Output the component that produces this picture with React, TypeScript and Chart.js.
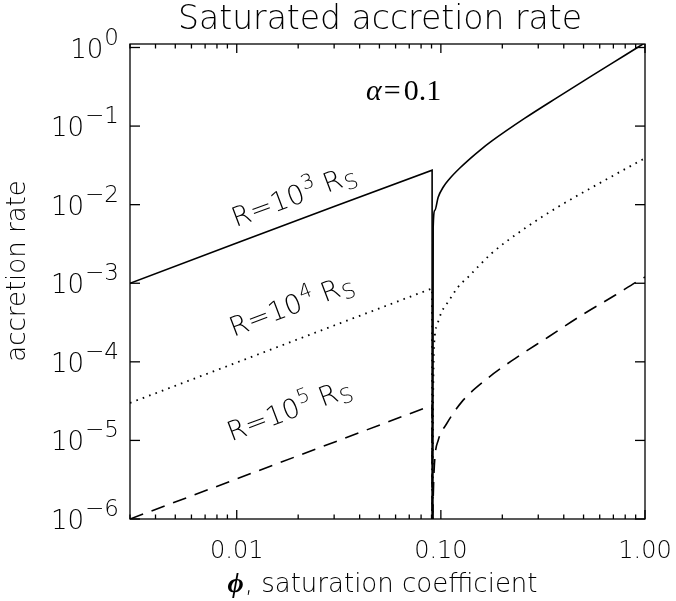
import React, { useEffect, useRef } from "react";
import { Chart, registerables } from "chart.js";

Chart.register(...registerables);

// ---- axis ranges and ticks ----
const X_MIN = 0.003;
const X_MAX = 1.0;
const Y_MIN = 1e-6;
const Y_MAX = 1.108;

const xTickValues = [0.01, 0.1, 1.0];
const xTickLabels = ["0.01", "0.10", "1.00"];
const yTickExponents = [0, -1, -2, -3, -4, -5, -6];

// ---- left branches (phi below the jump), ending with the vertical drop ----
const leftPhi = [0.003, 0.01, 0.03, 0.0906, 0.0906];
const solidLeft = [1.0e-3, 3.25e-3, 9.5e-3, 2.75e-2, 1e-6];
const dottedLeft = [3.0e-5, 9.8e-5, 2.9e-4, 8.6e-4, 1e-6];
const dashedLeft = [1.0e-6, 3.24e-6, 9.5e-6, 2.8e-5, 1e-6];

// ---- right branches (phi above the jump) ----
const solidRightPhi = [0.0914, 0.0917, 0.0935, 0.097, 0.1026, 0.1106, 0.1239, 0.1387, 0.1553, 0.1772, 0.258, 0.376, 0.548, 0.798, 1.0];
const solidRight = [1e-6, 5.21e-3, 8.49e-3, 1.243e-2, 1.666e-2, 2.15e-2, 2.925e-2, 3.833e-2, 4.915e-2, 6.42e-2, 0.126, 0.2355, 0.436, 0.798, 1.148];

const dottedRightPhi = [0.0912, 0.0914, 0.0918, 0.0935, 0.0953, 0.1008, 0.1086, 0.1216, 0.136, 0.1772, 0.258, 0.376, 0.637, 0.963, 1.0];
const dottedRight = [1e-6, 1e-5, 5e-5, 2.2e-4, 2.8e-4, 4.3e-4, 5.8e-4, 9.0e-4, 1.2e-3, 2.4e-3, 5.0e-3, 9.4e-3, 2.05e-2, 3.7e-2, 3.9e-2];

const dashedRightPhi = [0.0912, 0.0922, 0.0935, 0.097, 0.1067, 0.1263, 0.1644, 0.2307, 0.336, 0.489, 0.713, 0.908, 1.0];
const dashedRight = [1e-6, 3e-6, 6.1e-6, 1.0e-5, 1.63e-5, 3.07e-5, 5.8e-5, 1.1e-4, 2.07e-4, 3.91e-4, 7.03e-4, 1.04e-3, 1.2e-3];

// ---- curve labels: R = 10^n R_S ----
const labelExponents = ["3", "4", "5"];
const labelPhi = [0.0099, 0.00965, 0.0094];
const labelValue = [5.17e-3, 2.07e-4, 9.7e-6];

const TITLE = "Saturated accretion rate";
const X_TITLE = ", saturation coefficient";
const Y_TITLE = "accretion rate";

const SANS = '"DejaVu Sans", sans-serif';
const SERIF = '"Liberation Serif", "DejaVu Serif", serif';
const W = "300";

function pts(xs: number[], ys: number[]) {
  return xs.map((x, i) => ({ x, y: ys[i] }));
}

const overlay = {
  id: "overlay",
  afterDraw(chart: any) {
    const { ctx, chartArea: a, scales } = chart;
    const xs = scales.x;
    const ys = scales.y;
    ctx.save();
    ctx.strokeStyle = "#000";
    ctx.fillStyle = "#000";
    ctx.lineWidth = 1.3;
    ctx.strokeRect(a.left, a.top, a.right - a.left, a.bottom - a.top);
    const line = (x1: number, y1: number, x2: number, y2: number) => {
      ctx.beginPath();
      ctx.moveTo(x1, y1);
      ctx.lineTo(x2, y2);
      ctx.stroke();
    };
    // x ticks (major + minor), bottom and top
    for (let k = -3; k <= 0; k++) {
      for (let m = 1; m <= 9; m++) {
        const v = m * Math.pow(10, k);
        if (v < X_MIN * 0.999 || v > X_MAX * 1.001) continue;
        const px = xs.getPixelForValue(v);
        const len = m === 1 ? 9 : 4.5;
        line(px, a.bottom, px, a.bottom - len);
        line(px, a.top, px, a.top + len);
      }
    }
    // y ticks, left and right
    for (const e of yTickExponents) {
      const py = ys.getPixelForValue(Math.pow(10, e));
      line(a.left, py, a.left + 10, py);
      line(a.right, py, a.right - 10, py);
    }
    // y tick labels
    ctx.textBaseline = "alphabetic";
    ctx.textAlign = "left";
    for (const e of yTickExponents) {
      const py = ys.getPixelForValue(Math.pow(10, e));
      const exp = e === 0 ? "0" : "\u2212" + Math.abs(e);
      ctx.font = `${W} 26px ${SANS}`;
      const w1 = ctx.measureText("10").width;
      ctx.font = `${W} 23px ${SANS}`;
      const w2 = ctx.measureText(exp).width;
      const right = a.left - 11;
      ctx.font = `${W} 26px ${SANS}`;
      ctx.fillText("10", right - w2 - w1 - 1, py + 10);
      ctx.font = `${W} 23px ${SANS}`;
      ctx.fillText(exp, right - w2, py - 3);
    }
    // x tick labels
    ctx.textAlign = "center";
    ctx.font = `${W} 24px ${SANS}`;
    xTickValues.forEach((v, i) => {
      ctx.fillText(xTickLabels[i], xs.getPixelForValue(v), 558);
    });
    // title
    ctx.font = `${W} 33px ${SANS}`;
    ctx.fillText(TITLE, 380, 29);
    // x title with phi
    ctx.textAlign = "left";
    ctx.font = `bold italic 28px ${SERIF}`;
    const wPhi = ctx.measureText("\u03D5").width;
    ctx.font = `${W} 26px ${SANS}`;
    const wRest = ctx.measureText(X_TITLE).width;
    const x0 = 382 - (wPhi + wRest) / 2;
    ctx.font = `bold italic 28px ${SERIF}`;
    ctx.fillText("\u03D5", x0, 592);
    ctx.font = `${W} 26px ${SANS}`;
    ctx.fillText(X_TITLE, x0 + wPhi + 1, 592);
    // y title
    ctx.save();
    ctx.translate(25, 271);
    ctx.rotate(-Math.PI / 2);
    ctx.textAlign = "center";
    ctx.font = `${W} 26px ${SANS}`;
    ctx.fillText(Y_TITLE, 0, 0);
    ctx.restore();
    // alpha label
    ctx.textAlign = "left";
    ctx.font = `italic 30px ${SERIF}`;
    ctx.fillText("\u03B1", 366, 100);
    const wa = ctx.measureText("\u03B1").width;
    ctx.font = `30px ${SERIF}`;
    ctx.fillText("=", 366 + wa + 2, 100);
    const we = ctx.measureText("=").width;
    ctx.fillText("0.1", 366 + wa + we + 5, 100);
    // curve labels, rotated along the left-branch slope
    const lefts = [solidLeft, dottedLeft, dashedLeft];
    labelExponents.forEach((ex, i) => {
      const s = lefts[i];
      const ang = Math.atan2(
        ys.getPixelForValue(s[3]) - ys.getPixelForValue(s[0]),
        xs.getPixelForValue(leftPhi[3]) - xs.getPixelForValue(leftPhi[0])
      );
      const px = xs.getPixelForValue(labelPhi[i]);
      const py = ys.getPixelForValue(labelValue[i]);
      ctx.save();
      ctx.translate(px, py);
      ctx.rotate(ang);
      let cx = 0;
      ctx.font = `${W} 27px ${SANS}`;
      ctx.fillText("R=10", cx, 0);
      cx += ctx.measureText("R=10").width + 1;
      ctx.font = `${W} 20px ${SANS}`;
      ctx.fillText(ex, cx, -11);
      cx += ctx.measureText(ex).width + 8;
      ctx.font = `${W} 27px ${SANS}`;
      ctx.fillText("R", cx, 0);
      cx += ctx.measureText("R").width + 1;
      ctx.font = `${W} 21px ${SANS}`;
      ctx.fillText("S", cx, 5);
      ctx.restore();
    });
    ctx.restore();
  },
};

export default function App() {
  const ref = useRef<HTMLCanvasElement | null>(null);
  useEffect(() => {
    document.body.style.margin = "0";
    const canvas = ref.current;
    if (!canvas) return;
    const base = { pointRadius: 0, borderColor: "#000", fill: false, tension: 0 };
    const smooth = { cubicInterpolationMode: "monotone" };
    const chart = new Chart(canvas, {
      type: "line",
      data: {
        datasets: [
          { ...base, data: pts(leftPhi, solidLeft), borderWidth: 1.6 },
          { ...base, data: pts(leftPhi, dottedLeft), borderWidth: 1.8, borderDash: [1.6, 5.2] },
          { ...base, data: pts(leftPhi, dashedLeft), borderWidth: 1.6, borderDash: [14, 9] },
          { ...base, ...smooth, data: pts(solidRightPhi, solidRight), borderWidth: 1.6 },
          { ...base, ...smooth, data: pts(dottedRightPhi, dottedRight), borderWidth: 1.8, borderDash: [1.6, 5.2] },
          { ...base, ...smooth, data: pts(dashedRightPhi, dashedRight), borderWidth: 1.6, borderDash: [14, 9] },
        ] as any,
      },
      options: {
        animation: false,
        responsive: false,
        devicePixelRatio: 1,
        parsing: false as any,
        normalized: true,
        layout: { padding: { left: 130, top: 44, right: 31, bottom: 82 } },
        plugins: { legend: { display: false }, tooltip: { enabled: false }, title: { display: false } },
        scales: {
          x: { type: "logarithmic", min: X_MIN, max: X_MAX, display: false },
          y: { type: "logarithmic", min: Y_MIN, max: Y_MAX, display: false },
        },
      },
      plugins: [overlay],
    });
    return () => chart.destroy();
  }, []);
  return (
    <div style={{ width: 676, height: 601, position: "relative", background: "#fff" }}>
      <canvas ref={ref} width={676} height={601} style={{ display: "block", position: "absolute", left: 0, top: 0 }} />
    </div>
  );
}
